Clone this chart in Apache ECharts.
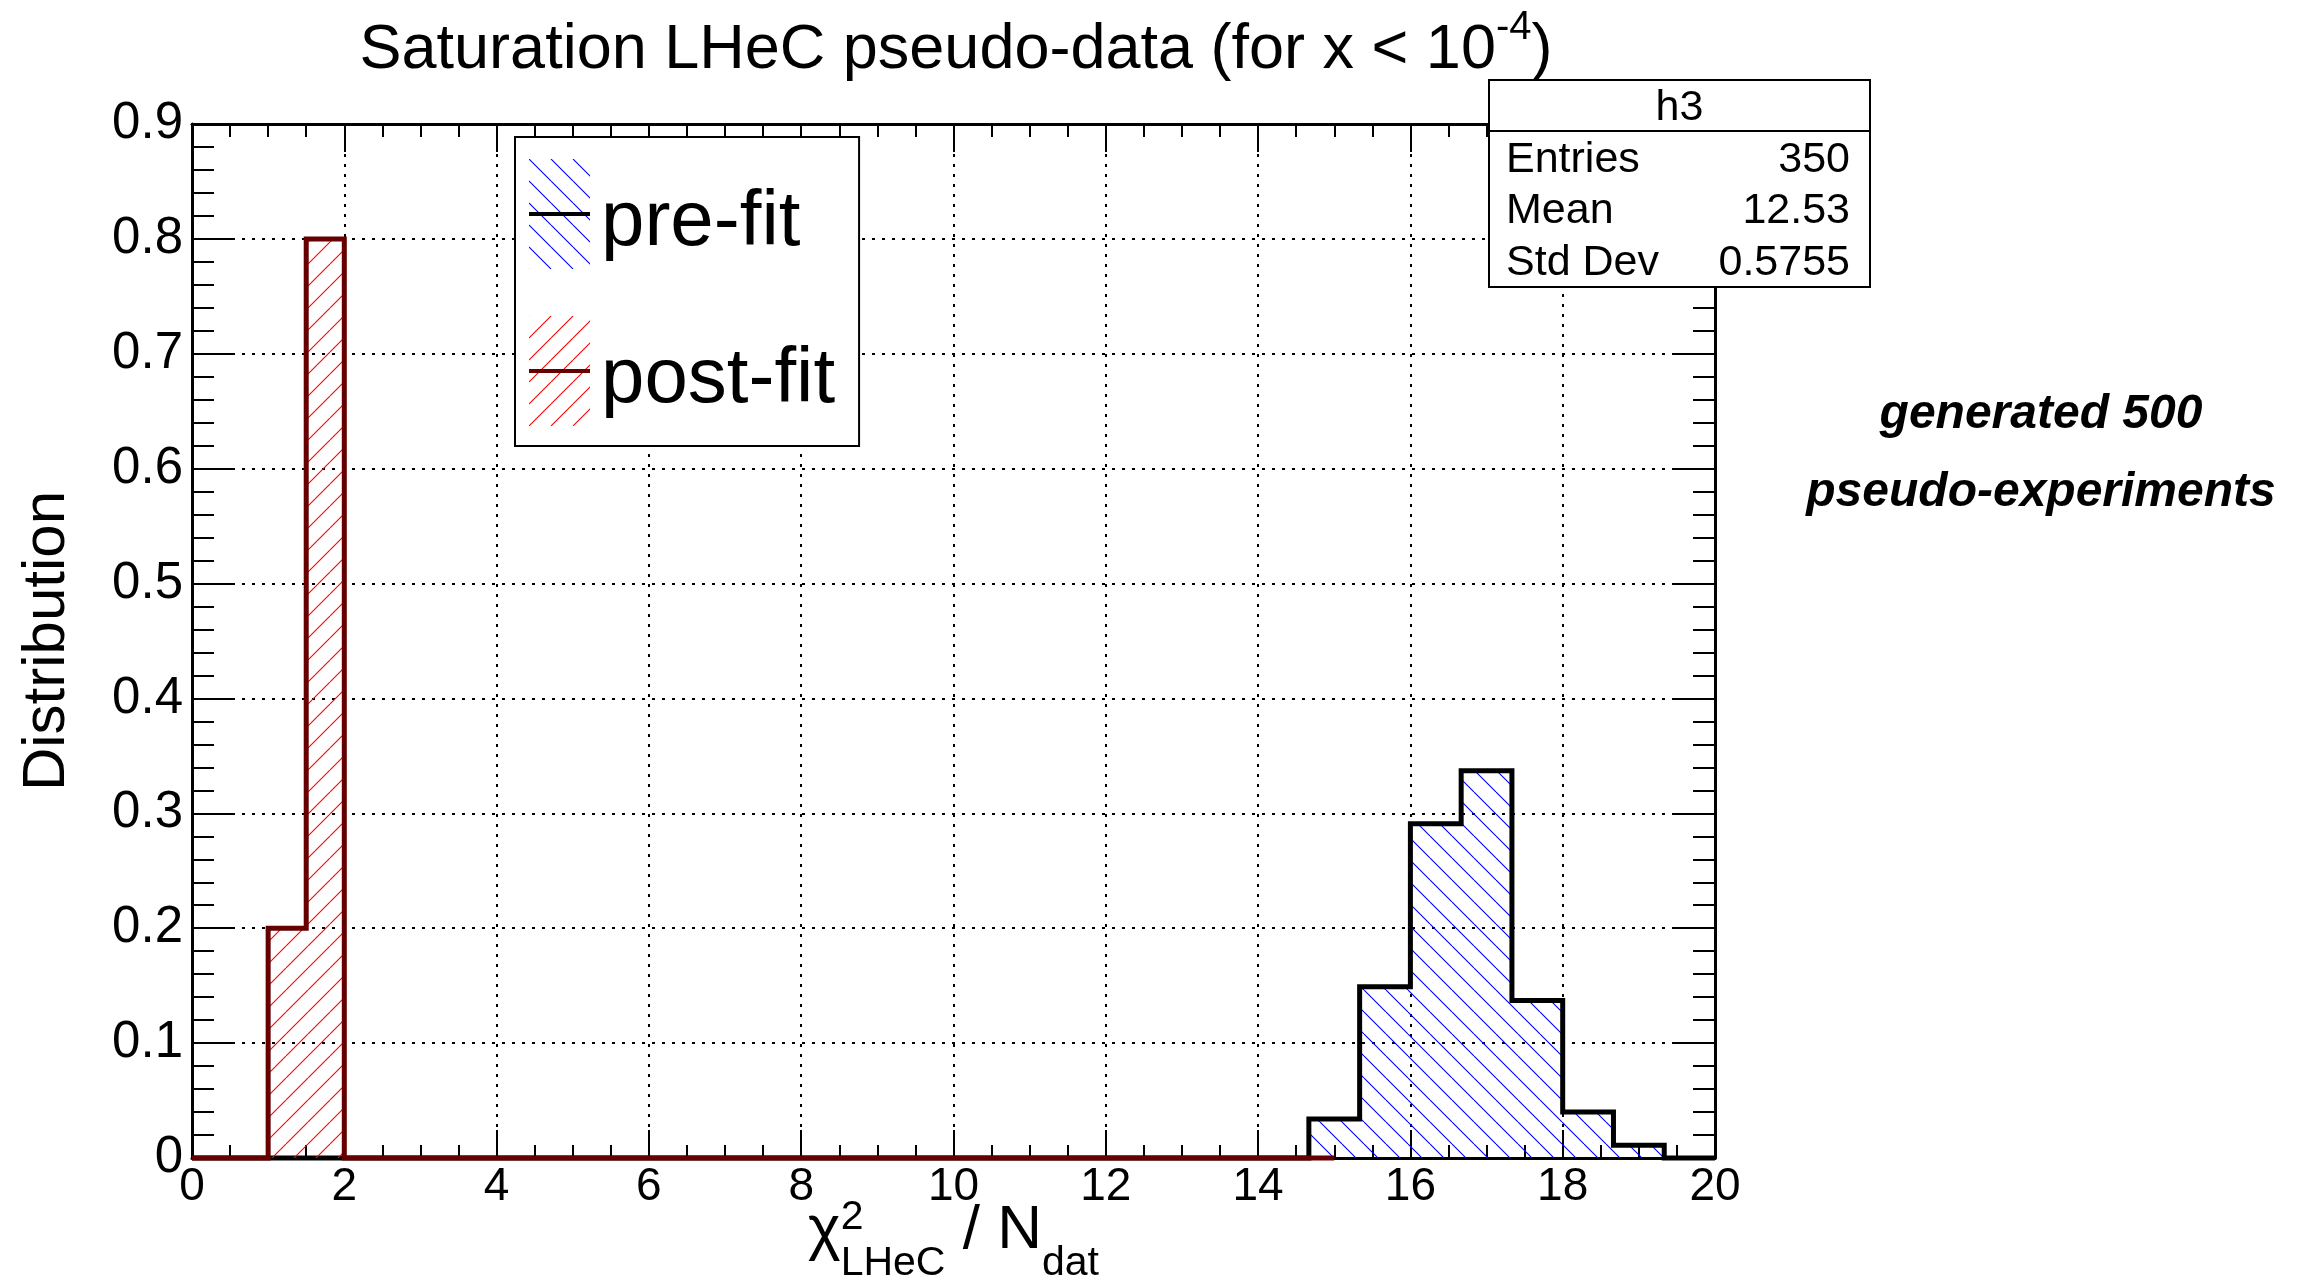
<!DOCTYPE html>
<html>
<head>
<meta charset="utf-8">
<script src="https://cdn.jsdelivr.net/npm/echarts@6/dist/echarts.min.js"></script>
<style>
  html, body { margin: 0; padding: 0; background: #fff; }
  #chart { width: 2302px; height: 1286px; }
</style>
</head>
<body>
<div id="chart"></div>
<script>
// ---- data ---------------------------------------------------------------
// pre-fit: 30 bins over [0, 20]
const preFitRange = [0, 20];
const preFitValues = [
  0, 0, 0, 0, 0, 0, 0, 0, 0, 0,
  0, 0, 0, 0, 0, 0, 0, 0, 0, 0,
  0, 0, 0.034, 0.149, 0.291, 0.337, 0.137, 0.040, 0.011, 0
];
// post-fit: 30 bins over [0, 15]
const postFitRange = [0, 15];
const postFitValues = [
  0, 0, 0.2, 0.8, 0, 0, 0, 0, 0, 0,
  0, 0, 0, 0, 0, 0, 0, 0, 0, 0,
  0, 0, 0, 0, 0, 0, 0, 0, 0, 0
];
const seriesNames = ['pre-fit', 'post-fit'];
const xAxisRange = [0, 20];
const xTickStep = 2;
const yAxisRange = [0, 0.9];
const yTickStep = 0.1;

const titleMain = 'Saturation LHeC pseudo-data (for x < 10';
const titleSup = '-4';
const titleTail = ')';
const yTitle = 'Distribution';
const statsName = 'h3';
const statsLabels = ['Entries', 'Mean', 'Std Dev'];
const statsValues = ['350', '12.53', '0.5755'];
const noteLines = ['generated 500', 'pseudo-experiments'];

// ---- helpers ------------------------------------------------------------
const FONT = '"Liberation Sans", Arial, Helvetica, sans-serif';
const POST_LINE = '#660000';

// outline of a histogram as a polyline of bin edges
function stepPoints(range, values) {
  const n = values.length;
  const w = (range[1] - range[0]) / n;
  const pts = [[range[0], 0]];
  for (let i = 0; i < n; i++) {
    pts.push([range[0] + i * w, values[i]]);
    pts.push([range[0] + (i + 1) * w, values[i]]);
  }
  pts.push([range[1], 0]);
  return pts;
}

// hatch tile: 'back' draws "\" lines, 'fwd' draws "/" lines
function hatchTile(color, dir, size) {
  const c = document.createElement('canvas');
  c.width = size; c.height = size;
  const g = c.getContext('2d');
  g.strokeStyle = color;
  g.lineWidth = 1.1;
  g.beginPath();
  for (const k of [-size, 0, size]) {
    if (dir === 'back') { g.moveTo(k, 0); g.lineTo(k + size, size); }
    else { g.moveTo(k, size); g.lineTo(k + size, 0); }
  }
  g.stroke();
  return c;
}

const blueTile = hatchTile('#0000ff', 'back', 22);
const redTile = hatchTile('#ff0000', 'fwd', 22);

// legend key: hatched swatch with the outline colour across its middle;
// extra blank space below lowers the label to sit on the swatch's lower half
const KEY_W = 61, KEY_H = 110, KEY_PAD = 18;
function legendIcon(tile, lineColor) {
  const c = document.createElement('canvas');
  c.width = KEY_W; c.height = KEY_H + KEY_PAD;
  const g = c.getContext('2d');
  g.fillStyle = g.createPattern(tile, 'repeat');
  g.fillRect(0, 0, KEY_W, KEY_H);
  g.fillStyle = lineColor;
  g.fillRect(0, KEY_H / 2 - 2, KEY_W, 4);
  return 'image://' + c.toDataURL();
}

const mctx = document.createElement('canvas').getContext('2d');
function tw(text, fs, weight, style) {
  mctx.font = (style || 'normal') + ' ' + (weight || 'normal') + ' ' + fs + 'px ' + FONT;
  return mctx.measureText(text).width;
}
// text placed by its left edge / centre and alphabetic baseline
function textAt(text, x, baseline, fs, extra) {
  const st = Object.assign({
    text: text, fontSize: fs, fontFamily: FONT, fill: '#000',
    textAlign: 'left', align: 'left',
    textVerticalAlign: 'middle', verticalAlign: 'middle'
  }, extra || {});
  return { type: 'text', x: x, y: baseline - 0.3465 * fs, z: 100, silent: true, style: st };
}

// ---- graphic texts --------------------------------------------------------
const graphics = [];

// title with superscript
(function () {
  const fsM = 63, fsS = 40;
  const w1 = tw(titleMain, fsM), w2 = tw(titleSup, fsS), w3 = tw(titleTail, fsM);
  let x = 956 - (w1 + w2 + w3) / 2;
  graphics.push(textAt(titleMain, x, 72, fsM)); x += w1;
  graphics.push(textAt(titleSup, x, 42, fsS)); x += w2;
  graphics.push(textAt(titleTail, x, 72, fsM));
})();

// x-axis title: chi^2_LHeC / N_dat
(function () {
  const fsM = 62, fsS = 41;
  const wChi = tw('\u03c7', fsM), wSup = tw('2', fsS), wSub = tw('LHeC', fsS);
  const wMid = tw(' / N', fsM), wDat = tw('dat', fsS);
  const total = wChi + Math.max(wSup, wSub) + wMid + wDat;
  let x = 953.5 - total / 2;
  graphics.push(textAt('\u03c7', x, 1252, fsM)); x += wChi;
  graphics.push(textAt('2', x, 1232, fsS));
  graphics.push(textAt('LHeC', x, 1278, fsS)); x += Math.max(wSup, wSub);
  graphics.push(textAt(' / N', x, 1252, fsM)); x += wMid;
  graphics.push(textAt('dat', x, 1278, fsS));
})();

// y-axis title
graphics.push({
  type: 'text', x: 47, y: 641, rotation: Math.PI / 2, z: 100, silent: true,
  style: {
    text: yTitle, fontSize: 60, fontFamily: FONT, fill: '#000',
    textAlign: 'center', align: 'center', textVerticalAlign: 'middle', verticalAlign: 'middle'
  }
});

// statistics box
(function () {
  const bx = 1489, by = 80, bw = 381, bh = 207;
  graphics.push({
    type: 'rect', z: 99, silent: true,
    shape: { x: bx, y: by, width: bw, height: bh },
    style: { fill: '#fff', stroke: '#000', lineWidth: 2 }
  });
  graphics.push({
    type: 'line', z: 100, silent: true,
    shape: { x1: bx, y1: 131, x2: bx + bw, y2: 131 },
    style: { stroke: '#000', lineWidth: 2 }
  });
  graphics.push(textAt(statsName, bx + bw / 2, 123, 43, { textAlign: 'center', align: 'center' }));
  const base = [175, 226, 278];
  statsLabels.forEach(function (lab, i) {
    graphics.push(textAt(lab, 1506, base[i], 43));
    graphics.push(textAt(statsValues[i], 1850, base[i], 43, { textAlign: 'right', align: 'right' }));
  });
})();

// side note
[431, 509].forEach(function (b, i) {
  graphics.push(textAt(noteLines[i], 2041, b, 48, {
    textAlign: 'center', align: 'center', fontWeight: 'bold', fontStyle: 'italic'
  }));
});

// ---- axes -----------------------------------------------------------------
const black = '#000';
function xAxisDef(pos, labels) {
  return {
    type: 'value', position: pos, min: xAxisRange[0], max: xAxisRange[1], interval: xTickStep,
    axisLine: { show: true, onZero: false, lineStyle: { color: black, width: 3 } },
    axisTick: { show: true, inside: true, length: 28, lineStyle: { color: black, width: 2 } },
    minorTick: { show: true, splitNumber: 4, length: 13, lineStyle: { color: black, width: 2 } },
    axisLabel: { show: labels, color: black, fontSize: 46, fontFamily: FONT, margin: 6 },
    splitLine: { show: labels, lineStyle: { color: black, width: 2, type: [3, 7] } },
    minorSplitLine: { show: false }
  };
}
function yAxisDef(pos, labels) {
  return {
    type: 'value', position: pos, min: yAxisRange[0], max: yAxisRange[1], interval: yTickStep,
    axisLine: { show: true, onZero: false, lineStyle: { color: black, width: 3 } },
    axisTick: { show: true, inside: true, length: 42, lineStyle: { color: black, width: 2 } },
    minorTick: { show: true, splitNumber: 5, length: 22, lineStyle: { color: black, width: 2 } },
    axisLabel: { show: labels, color: black, fontSize: 51, fontFamily: FONT, margin: 9 },
    splitLine: { show: labels, lineStyle: { color: black, width: 2, type: [3, 7] } },
    minorSplitLine: { show: false }
  };
}

const chart = echarts.init(document.getElementById('chart'), null, { renderer: 'canvas' });
chart.setOption({
  animation: false,
  backgroundColor: '#fff',
  grid: { left: 192, right: 587, top: 124, bottom: 128, containLabel: false },
  xAxis: [xAxisDef('bottom', true), xAxisDef('top', false)],
  yAxis: [yAxisDef('left', true), yAxisDef('right', false)],
  legend: {
    orient: 'vertical', left: 515, top: 137,
    padding: [22, 24, 2, 14],
    itemWidth: KEY_W, itemHeight: KEY_H + KEY_PAD, itemGap: 47 - KEY_PAD,
    backgroundColor: '#fff', borderColor: '#000', borderWidth: 2, borderRadius: 0,
    selectedMode: false, z: 50,
    textStyle: { fontSize: 78, fontFamily: FONT, color: '#000', padding: [0, 0, 0, 6] },
    data: [
      { name: seriesNames[0], icon: legendIcon(blueTile, '#000') },
      { name: seriesNames[1], icon: legendIcon(redTile, POST_LINE) }
    ]
  },
  graphic: { elements: graphics },
  series: [
    {
      name: seriesNames[0], type: 'line', xAxisIndex: 0, yAxisIndex: 0,
      data: stepPoints(preFitRange, preFitValues),
      symbol: 'none', showSymbol: false, clip: false, silent: true, z: 3,
      lineStyle: { color: '#000', width: 5, join: 'miter' },
      areaStyle: { color: { image: blueTile, repeat: 'repeat' }, opacity: 1, origin: 'start' }
    },
    {
      name: seriesNames[1], type: 'line', xAxisIndex: 0, yAxisIndex: 0,
      data: stepPoints(postFitRange, postFitValues),
      symbol: 'none', showSymbol: false, clip: false, silent: true, z: 4,
      lineStyle: { color: POST_LINE, width: 5, join: 'miter' },
      areaStyle: { color: { image: redTile, repeat: 'repeat' }, opacity: 1, origin: 'start' }
    }
  ]
});
</script>
</body>
</html>
